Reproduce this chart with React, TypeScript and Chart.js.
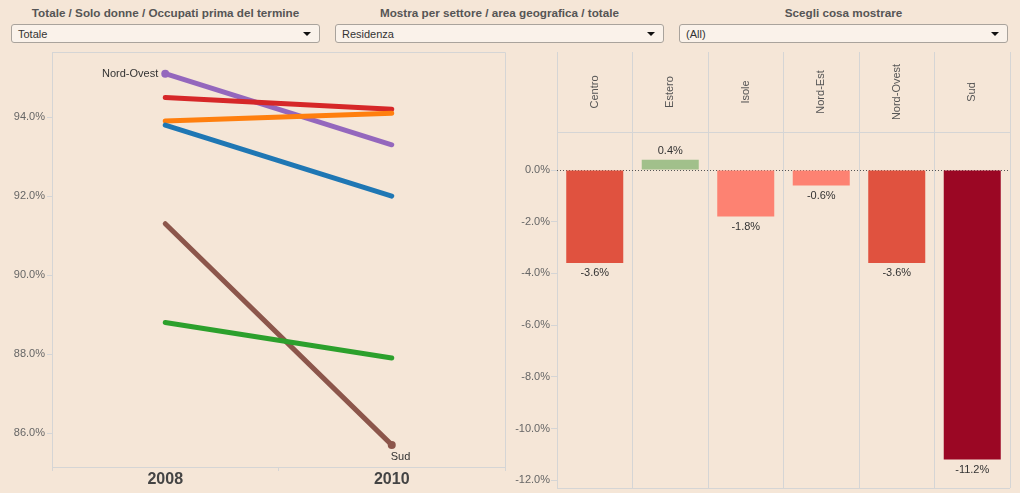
import React, { useEffect, useRef } from "react";
import { Chart, registerables } from "chart.js";

Chart.register(...registerables);

// ---------- data ----------
const years = ["2008", "2010"];
const regions = ["Centro", "Estero", "Isole", "Nord-Est", "Nord-Ovest", "Sud"];
const centro = [93.8, 92.0];
const estero = [93.9, 94.1];
const isole = [88.8, 87.9];
const nordEst = [94.5, 94.2];
const nordOvest = [95.1, 93.3];
const sud = [91.3, 85.7];
const variation = [-3.6, 0.4, -1.8, -0.6, -3.6, -11.2];
const leftTicks = [86, 88, 90, 92, 94];
const rightTicks = [0, -2, -4, -6, -8, -10, -12];

const filterTitles = [
  "Totale / Solo donne / Occupati prima del termine",
  "Mostra per settore / area geografica / totale",
  "Scegli cosa mostrare",
];
const filterValues = ["Totale", "Residenza", "(All)"];

// ---------- style ----------
const BG = "#f5e6d7";
const GRID = "#d5d5d5";
const FONT = "'Liberation Sans', Arial, sans-serif";
const lineColors = ["#1f77b4", "#ff7f0e", "#2ca02c", "#d62728", "#9467bd", "#8c564b"];
const barColors = ["#e0523f", "#a1c08b", "#fd8272", "#fd8272", "#e0523f", "#9b0724"];

const fmt = (v: number) => v.toFixed(1) + "%";

const leftFrame = {
  id: "leftFrame",
  afterDraw(chart: any) {
    const { ctx, chartArea: a } = chart;
    ctx.save();
    ctx.strokeStyle = GRID;
    ctx.lineWidth = 1;
    ctx.beginPath();
    ctx.moveTo(a.left, a.top + 0.5);
    ctx.lineTo(a.right + 0.5, a.top + 0.5);
    ctx.lineTo(a.right + 0.5, a.bottom);
    ctx.stroke();
    ctx.restore();
  },
};

const lineLabels = {
  id: "lineLabels",
  afterDatasetsDraw(chart: any) {
    const { ctx } = chart;
    ctx.save();
    ctx.font = "11px " + FONT;
    ctx.fillStyle = "#333";
    const mNO = chart.getDatasetMeta(4);
    const p0 = mNO.data[0];
    ctx.textAlign = "right";
    ctx.textBaseline = "middle";
    ctx.fillText("Nord-Ovest", p0.x - 7, p0.y);
    const mS = chart.getDatasetMeta(5);
    const p1 = mS.data[1];
    ctx.textAlign = "left";
    ctx.fillText("Sud", p1.x - 1, p1.y + 12);
    ctx.restore();
  },
};

const barExtras = {
  id: "barExtras",
  beforeDatasetsDraw(chart: any) {
    const { ctx, chartArea: a } = chart;
    const y0 = Math.round(chart.scales.y.getPixelForValue(0)) + 0.5;
    ctx.save();
    ctx.strokeStyle = "#555";
    ctx.lineWidth = 1;
    ctx.setLineDash([1, 2]);
    ctx.beginPath();
    ctx.moveTo(a.left, y0);
    ctx.lineTo(a.right, y0);
    ctx.stroke();
    ctx.restore();
  },
  afterDatasetsDraw(chart: any) {
    const { ctx, chartArea: a } = chart;
    const meta = chart.getDatasetMeta(0);
    ctx.save();
    ctx.font = "11px " + FONT;
    ctx.fillStyle = "#333";
    ctx.textAlign = "center";
    ctx.textBaseline = "middle";
    meta.data.forEach((el: any, i: number) => {
      const v = variation[i];
      ctx.fillText(fmt(v), el.x, v >= 0 ? el.y - 9 : el.y + 10);
    });
    // header labels
    const xs = chart.scales.x;
    const hy = (a.top - 80 + a.top) / 2;
    ctx.fillStyle = "#555";
    regions.forEach((r, i) => {
      ctx.save();
      ctx.translate(xs.getPixelForValue(i), hy);
      ctx.rotate(-Math.PI / 2);
      ctx.fillText(r, 0, 0);
      ctx.restore();
    });
    // bottom border
    ctx.strokeStyle = GRID;
    ctx.lineWidth = 1;
    ctx.beginPath();
    ctx.moveTo(a.left, a.bottom + 0.5);
    ctx.lineTo(a.right, a.bottom + 0.5);
    ctx.stroke();
    ctx.restore();
  },
};

function LeftChart() {
  const ref = useRef<HTMLCanvasElement>(null);
  useEffect(() => {
    const series = [centro, estero, isole, nordEst, nordOvest, sud];
    const chart = new Chart(ref.current!, {
      type: "line",
      data: {
        labels: years,
        datasets: series.map((d, i) => ({
          label: regions[i],
          data: d,
          borderColor: lineColors[i],
          backgroundColor: lineColors[i],
          borderWidth: 5,
          borderCapStyle: "round" as const,
          pointRadius: i === 4 ? [4, 0] : i === 5 ? [0, 4] : 0,
          pointBorderWidth: 0,
          tension: 0,
        })),
      },
      options: {
        animation: false,
        responsive: false,
        events: [],
        layout: { padding: { left: 0, top: 52, right: 515, bottom: 0 } },
        plugins: { legend: { display: false }, tooltip: { enabled: false } },
        scales: {
          x: {
            type: "category",
            offset: true,
            grid: { display: true, drawOnChartArea: false, tickLength: 4, color: GRID, offset: true },
            border: { color: GRID },
            ticks: { padding: -1, color: "#444", font: { size: 16, weight: "bold", family: FONT } },
            afterFit: (s: any) => {
              s.height = 26;
              s.paddingLeft = 0;
              s.paddingRight = 0;
            },
          },
          y: {
            min: 85.14,
            max: 95.65,
            grid: { drawOnChartArea: false, tickLength: 5, color: GRID },
            border: { color: GRID },
            afterBuildTicks: (s: any) => {
              s.ticks = leftTicks.map((v) => ({ value: v }));
            },
            ticks: {
              padding: 2,
              color: "#666",
              font: { size: 11, family: FONT },
              callback: (v: any) => fmt(Number(v)),
            },
            afterFit: (s: any) => {
              s.width = 52;
              s.paddingTop = 0;
              s.paddingBottom = 0;
            },
          },
        },
      } as any,
      plugins: [leftFrame, lineLabels],
    });
    return () => chart.destroy();
  }, []);
  return <canvas ref={ref} width={1020} height={493} style={{ position: "absolute", left: 0, top: 0 }} />;
}

function RightChart() {
  const ref = useRef<HTMLCanvasElement>(null);
  useEffect(() => {
    const chart = new Chart(ref.current!, {
      type: "bar",
      data: {
        labels: regions,
        datasets: [
          {
            data: variation,
            backgroundColor: barColors,
            borderWidth: 0,
            barPercentage: 0.755,
            categoryPercentage: 1,
          },
        ],
      },
      options: {
        animation: false,
        responsive: false,
        events: [],
        layout: { padding: { left: 505, top: 52, right: 10, bottom: 5 } },
        plugins: { legend: { display: false }, tooltip: { enabled: false } },
        scales: {
          x: {
            type: "category",
            position: "top",
            offset: true,
            grid: { display: true, drawOnChartArea: true, tickLength: 80, color: GRID, offset: true },
            border: { color: GRID },
            ticks: { display: false },
            afterFit: (s: any) => {
              s.height = 80;
              s.paddingLeft = 0;
              s.paddingRight = 0;
            },
          },
          y: {
            min: -12.3,
            max: 1.47,
            grid: { drawOnChartArea: false, tickLength: 6, color: GRID },
            border: { color: GRID },
            afterBuildTicks: (s: any) => {
              s.ticks = rightTicks.map((v) => ({ value: v }));
            },
            ticks: {
              padding: 1,
              color: "#666",
              font: { size: 11, family: FONT },
              callback: (v: any) => fmt(Number(v)),
            },
            afterFit: (s: any) => {
              s.width = 52;
              s.paddingTop = 0;
              s.paddingBottom = 0;
            },
          },
        },
      } as any,
      plugins: [barExtras],
    });
    return () => chart.destroy();
  }, []);
  return <canvas ref={ref} width={1020} height={493} style={{ position: "absolute", left: 0, top: 0 }} />;
}

const boxes = [
  { left: 11, width: 309 },
  { left: 335, width: 329 },
  { left: 679, width: 329 },
];

export default function App() {
  return (
    <div
      style={{
        position: "absolute",
        left: 0,
        top: 0,
        width: 1020,
        height: 493,
        background: BG,
        overflow: "hidden",
        fontFamily: FONT,
      }}
    >
      {boxes.map((b, i) => (
        <React.Fragment key={i}>
          <div
            style={{
              position: "absolute",
              left: b.left,
              width: b.width,
              top: 5,
              textAlign: "center",
              fontWeight: "bold",
              fontSize: 11.7,
              color: "#555",
              lineHeight: "16px",
            }}
          >
            {filterTitles[i]}
          </div>
          <div
            style={{
              position: "absolute",
              left: b.left,
              top: 24,
              width: b.width,
              height: 19,
              border: "1px solid #a9a39c",
              borderRadius: 3,
              background: "#faf2ea",
              fontSize: 11,
              color: "#333",
              lineHeight: "18px",
              paddingLeft: 6,
              boxSizing: "border-box",
            }}
          >
            <span>{filterValues[i]}</span>
            <div
              style={{
                position: "absolute",
                right: 8,
                top: 7,
                width: 0,
                height: 0,
                borderLeft: "4px solid transparent",
                borderRight: "4px solid transparent",
                borderTop: "4px solid #111",
              }}
            />
          </div>
        </React.Fragment>
      ))}
      <LeftChart />
      <RightChart />
    </div>
  );
}
